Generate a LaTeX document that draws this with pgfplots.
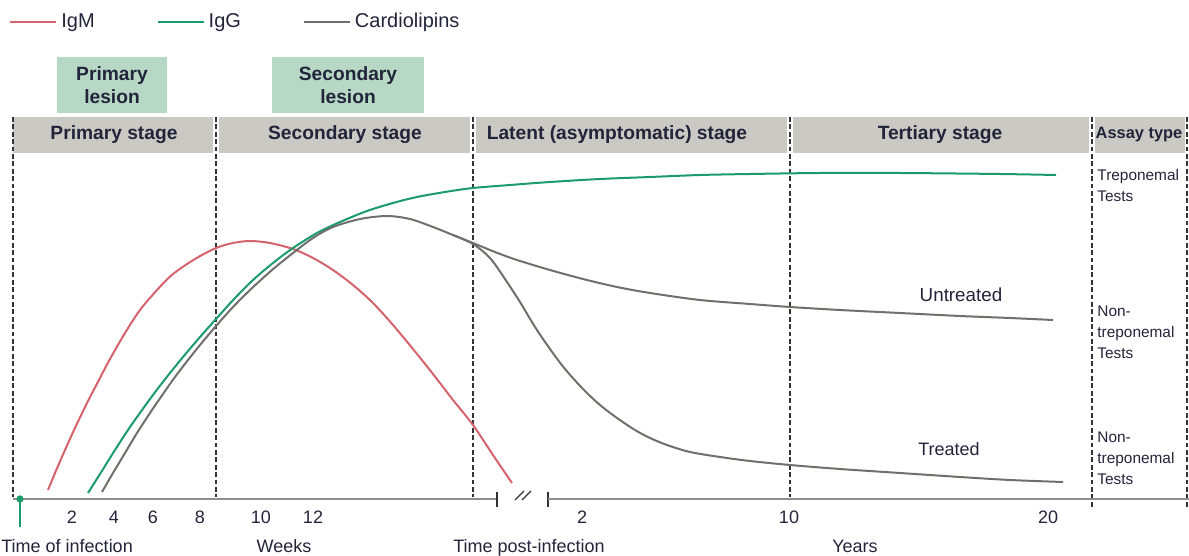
\documentclass[border=0pt]{standalone}
\usepackage{pgfplots}
\pgfplotsset{compat=1.18}
\usepackage{fontspec}
\setmainfont{Liberation Sans}
\definecolor{cIgM}{HTML}{D4636C}
\definecolor{cIgG}{HTML}{1B9A6C}
\definecolor{cCar}{HTML}{6F6F6C}
\definecolor{band}{HTML}{CAC9C4}
\definecolor{box}{HTML}{B6D8C5}
\definecolor{txt}{HTML}{22253A}
\definecolor{axl}{HTML}{8E8E8E}
\begin{document}
\begin{tikzpicture}
\begin{axis}[
  width=594.5pt, height=278pt, scale only axis,
  xmin=0, xmax=1189, ymin=0, ymax=556, y dir=reverse,
  hide axis, clip=false,
  legend columns=3,
  legend style={at={(axis cs:9,22)}, anchor=west, draw=none, fill=none,
    inner sep=0pt, font=\fontsize{10}{12}\selectfont\color{txt},
    /tikz/every even column/.append style={column sep=29pt}},
  legend image code/.code={\draw[#1] (0pt,0pt) -- (23pt,0pt);},
]
% header band and boxes
\fill[box] (axis cs:57,57) rectangle (axis cs:167,113);
\fill[box] (axis cs:272,57) rectangle (axis cs:424,113);
\fill[band] (axis cs:13,117) rectangle (axis cs:213,153);
\fill[band] (axis cs:219,117) rectangle (axis cs:470,153);
\fill[band] (axis cs:476,117) rectangle (axis cs:787,153);
\fill[band] (axis cs:793,117) rectangle (axis cs:1089,153);
\fill[band] (axis cs:1095,117) rectangle (axis cs:1185,153);
\begin{scope}[txt, font=\fontsize{9.6}{11.5}\selectfont\bfseries]
\node[align=center] at (axis cs:112,85) {Primary\\lesion};
\node[align=center] at (axis cs:348,85) {Secondary\\lesion};
\node at (axis cs:114,135) {Primary stage};
\node at (axis cs:345,135) {Secondary stage};
\node at (axis cs:617,135) {Latent (asymptomatic) stage};
\node at (axis cs:940,135) {Tertiary stage};
\node[font=\fontsize{8.2}{9}\selectfont\bfseries] at (axis cs:1139,135) {Assay type};
\end{scope}
% dashed separators
\begin{scope}[dash pattern=on 2.4pt off 1.3pt, line width=0.7pt, black!80]
\draw (axis cs:13,117) -- (axis cs:13,497);
\draw (axis cs:216,117) -- (axis cs:216,497);
\draw (axis cs:473,117) -- (axis cs:473,497);
\draw (axis cs:790,117) -- (axis cs:790,497);
\draw (axis cs:1092,117) -- (axis cs:1092,507);
\draw (axis cs:1187,117) -- (axis cs:1187,507);
\end{scope}
% time axis
\draw[axl, line width=1pt] (axis cs:13,499) -- (axis cs:497,499);
\draw[black!80, line width=0.7pt] (axis cs:497,492) -- (axis cs:497,507);
\draw[black!80, line width=0.6pt] (axis cs:515,500) -- (axis cs:524,491);
\draw[black!80, line width=0.6pt] (axis cs:522,500) -- (axis cs:531,491);
\draw[black!80, line width=0.7pt] (axis cs:548,492) -- (axis cs:548,507);
\draw[axl, line width=1pt] (axis cs:548,499) -- (axis cs:1189,499);

% curves
\addplot[cIgM, line width=1pt, smooth] coordinates {
 (48,490) (55,473) (65,450) (75,428) (87,403) (100,378) (110,359) (125,333)
 (140,310) (157,290) (173,274) (195,259) (216,248) (233,243) (250,241)
 (270,243) (293,249) (313,258) (333,270) (353,285) (373,303) (393,325)
 (413,349) (433,374) (453,400) (473,425) (493,455) (512,483)};
\addlegendentry{IgM}
\addplot[cIgG, line width=1pt, smooth] coordinates {
 (88,493) (100,474) (115,450) (130,427) (150,399) (166,378) (183,357)
 (200,337) (216,319) (235,298) (253,280) (273,263) (293,248) (317,233)
 (340,222) (367,211) (393,203) (417,197) (445,192) (473,188) (510,185)
 (550,182) (600,179) (650,177) (700,175) (750,174) (820,173) (900,173)
 (1000,174) (1056,175)};
\addlegendentry{IgG}
\addplot[cCar, line width=1pt, smooth] coordinates {
 (102,492) (113,473) (125,453) (137,433) (150,413) (163,394) (175,377)
 (188,360) (200,345) (216,326) (233,307) (250,290) (272,270) (293,253)
 (313,238) (333,227) (360,219) (387,216) (410,219) (433,227) (453,235)
 (473,243) (495,252) (517,260) (550,270) (583,279) (617,287) (650,293)
 (700,300) (750,304) (790,307) (840,310) (900,313) (960,316) (1010,318)
 (1053,320)};
\addlegendentry{Cardiolipins}
\addplot[cCar, line width=1pt, smooth, forget plot] coordinates {
 (453,235) (473,244) (490,258) (505,279) (520,302) (535,327) (550,349)
 (565,369) (583,389) (600,405) (617,418) (635,430) (650,438) (667,445)
 (690,452) (720,457) (750,461) (790,465) (840,469) (900,473) (960,477)
 (1010,480) (1063,482)};
% time of infection marker
\addplot[cIgG, line width=0.8pt, forget plot] coordinates {(20,499) (20,527)};
\addplot[cIgG, only marks, mark=*, mark size=1.6pt, forget plot] coordinates {(20,499)};

% labels
\begin{scope}[txt, font=\fontsize{9}{11}\selectfont, anchor=base]
\node at (axis cs:72,523) {2};
\node at (axis cs:114,523) {4};
\node at (axis cs:153,523) {6};
\node at (axis cs:200,523) {8};
\node at (axis cs:261,523) {10};
\node at (axis cs:313,523) {12};
\node at (axis cs:582,523) {2};
\node at (axis cs:789,523) {10};
\node at (axis cs:1048,523) {20};
\node[anchor=base west, inner sep=0pt] at (axis cs:1,552) {Time of infection};
\node at (axis cs:284,552) {Weeks};
\node at (axis cs:529,552) {Time post-infection};
\node at (axis cs:855,552) {Years};
\node[font=\fontsize{9.4}{11}\selectfont] at (axis cs:961,301) {Untreated};
\node at (axis cs:949,455) {Treated};
\end{scope}
\begin{scope}[txt, font=\fontsize{7.7}{10.5}\selectfont]
\node[anchor=west, align=left, inner sep=0pt] at (axis cs:1097,185) {Treponemal\\Tests};
\node[anchor=west, align=left, inner sep=0pt] at (axis cs:1097,332) {Non-\\treponemal\\Tests};
\node[anchor=west, align=left, inner sep=0pt] at (axis cs:1097,458) {Non-\\treponemal\\Tests};
\end{scope}
\coordinate (ll) at (axis cs:0,556);
\coordinate (ur) at (axis cs:1189,0);
\end{axis}
\pgfresetboundingbox
\useasboundingbox (ll) rectangle (ur);
\end{tikzpicture}
\end{document}
